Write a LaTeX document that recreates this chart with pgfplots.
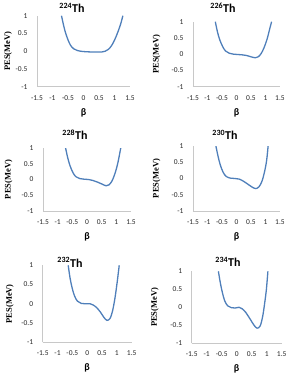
\documentclass[border=0pt]{standalone}
\usepackage{fontspec}
\setmainfont{Carlito}
\newfontfamily\timesfont{Liberation Serif}
\usepackage{pgfplots}
\pgfplotsset{compat=1.18}

\definecolor{curveblue}{HTML}{4F7FBA}
\definecolor{axisgray}{HTML}{C8C8C8}

\pgfplotsset{
  pes/.style={
    scale only axis,
    anchor=south west,
    xmin=-1.5, xmax=1.5, ymin=-1, ymax=1,
    enlargelimits=false,
    axis x line*=bottom, axis y line*=left,
    axis line style={axisgray, line width=0.6pt},
    every outer x axis line/.append style={-},
    every outer y axis line/.append style={-},
    major tick length=0pt,
    xtick={-1.5,-1,-0.5,0,0.5,1,1.5},
    xticklabels={-1.5,-1,-0.5,0,0.5,1,1.5},
    ytick={-1,-0.5,0,0.5,1},
    yticklabels={-1,-0.5,0,0.5,1},
    tick label style={font=\fontsize{7.5}{8}\selectfont, text=black!85},
    xticklabel style={yshift=-5pt},
    yticklabel style={xshift=-6pt},
    xlabel={\textbf{β}},
    xlabel style={font=\fontsize{10}{11}\selectfont, at={(axis description cs:0.5,0)}, anchor=center, yshift=-26pt},
    ylabel={\timesfont\bfseries PES(MeV)},
    ylabel style={font=\fontsize{8.5}{9}\selectfont, anchor=center},
  },
  pesline/.style={curveblue, line width=1.3pt, smooth, tension=0.55, mark=none},
}

\begin{document}
\begin{tikzpicture}
\useasboundingbox (0pt,0pt) rectangle (287pt,376pt);

% 224Th
\begin{axis}[pes, at={(37pt,289.3pt)}, width=93pt, height=71pt,
  ylabel style={at={(axis description cs:-0.31,0.5)}}]
\addplot[pesline] coordinates {(-0.71,1.0) (-0.64,0.72) (-0.58,0.52) (-0.5,0.32) (-0.42,0.17) (-0.32,0.07) (-0.2,0.02) (-0.1,0.0) (0,-0.01) (0.2,-0.02) (0.4,-0.02) (0.6,-0.02) (0.7,0.0) (0.8,0.05) (0.9,0.15) (1.0,0.31) (1.1,0.52) (1.2,0.77) (1.27,1.0)};
\end{axis}

% 226Th
\begin{axis}[pes, at={(193pt,289.3pt)}, width=87pt, height=65pt,
  ylabel style={at={(axis description cs:-0.42,0.5)}}]
\addplot[pesline] coordinates {(-0.73,1) (-0.66,0.7) (-0.58,0.45) (-0.48,0.24) (-0.38,0.1) (-0.25,0.03) (-0.1,0.0) (0.05,-0.01) (0.2,-0.02) (0.35,-0.04) (0.5,-0.08) (0.65,-0.11) (0.75,-0.08) (0.85,0.02) (0.95,0.2) (1.05,0.45) (1.14,0.76) (1.21,1)};
\end{axis}

% 228Th
\begin{axis}[pes, at={(43pt,165pt)}, width=88pt, height=63pt,
  ylabel style={at={(axis description cs:-0.39,0.5)}}]
\addplot[pesline] coordinates {(-0.73,1) (-0.66,0.7) (-0.58,0.44) (-0.48,0.22) (-0.38,0.09) (-0.25,0.03) (-0.1,0.01) (0.05,0.0) (0.2,-0.03) (0.35,-0.08) (0.5,-0.14) (0.65,-0.2) (0.75,-0.17) (0.85,-0.05) (0.95,0.18) (1.05,0.52) (1.15,1)};
\end{axis}

% 230Th
\begin{axis}[pes, at={(193pt,165pt)}, width=87pt, height=65pt,
  ylabel style={at={(axis description cs:-0.42,0.5)}}]
\addplot[pesline] coordinates {(-0.71,1) (-0.64,0.7) (-0.56,0.42) (-0.46,0.19) (-0.35,0.06) (-0.2,0.01) (-0.05,0.0) (0.1,-0.02) (0.25,-0.09) (0.4,-0.18) (0.55,-0.27) (0.67,-0.31) (0.78,-0.25) (0.88,-0.08) (0.97,0.22) (1.04,0.56) (1.09,1)};
\end{axis}

% 232Th
\begin{axis}[pes, at={(42.7pt,33.7pt)}, width=89pt, height=77pt,
  ylabel style={at={(axis description cs:-0.37,0.5)}}]
\addplot[pesline] coordinates {(-0.64,1) (-0.58,0.68) (-0.51,0.42) (-0.43,0.21) (-0.33,0.07) (-0.2,0.01) (-0.05,0.0) (0.1,0.0) (0.2,-0.03) (0.32,-0.1) (0.45,-0.22) (0.57,-0.36) (0.67,-0.43) (0.77,-0.38) (0.85,-0.2) (0.93,0.12) (1.0,0.5) (1.08,1)};
\end{axis}

% 234Th
\begin{axis}[pes, at={(191.7pt,32.7pt)}, width=90pt, height=72pt,
  ylabel style={at={(axis description cs:-0.41,0.5)}}]
\addplot[pesline] coordinates {(-0.61,1) (-0.55,0.7) (-0.48,0.42) (-0.4,0.18) (-0.3,0.04) (-0.18,-0.01) (-0.05,-0.02) (0.08,0.0) (0.18,-0.04) (0.3,-0.14) (0.45,-0.33) (0.58,-0.5) (0.68,-0.58) (0.78,-0.52) (0.86,-0.28) (0.93,0.1) (0.99,0.5) (1.04,1)};
\end{axis}

% panel titles
\begin{scope}[every node/.style={font=\bfseries\fontsize{12}{14}\selectfont}]
\node at (72pt,368pt) {\textsuperscript{224}Th};
\node at (223pt,368pt) {\textsuperscript{226}Th};
\node at (75pt,241pt) {\textsuperscript{228}Th};
\node at (225pt,241pt) {\textsuperscript{230}Th};
\node at (70pt,113.7pt) {\textsuperscript{232}Th};
\node at (228pt,114.3pt) {\textsuperscript{234}Th};
\end{scope}
\end{tikzpicture}
\end{document}
